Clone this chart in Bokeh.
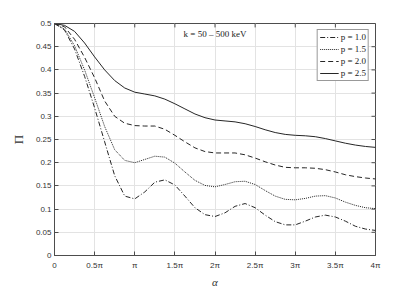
import numpy as np
from bokeh.plotting import figure
from bokeh.models import (FixedTicker, CustomJSTickFormatter, Legend,
                          LegendItem, Range1d, Label)
from bokeh.embed import file_html
from bokeh.resources import INLINE

# alpha in units of pi
alpha_pi = [0, 0.125, 0.25, 0.375, 0.5, 0.625, 0.75, 0.875, 1.0, 1.125, 1.25, 1.375,
            1.5, 1.625, 1.75, 1.875, 2.0, 2.125, 2.25, 2.375, 2.5, 2.625, 2.75, 2.875,
            3.0, 3.125, 3.25, 3.375, 3.5, 3.625, 3.75, 3.875, 4.0]

pi_p10 = [0.500, 0.486, 0.445, 0.386, 0.318, 0.245, 0.172, 0.128, 0.122, 0.137, 0.158, 0.163,
          0.152, 0.128, 0.103, 0.088, 0.084, 0.092, 0.106, 0.112, 0.103, 0.087, 0.073, 0.066,
          0.066, 0.074, 0.083, 0.087, 0.083, 0.074, 0.063, 0.057, 0.054]
pi_p15 = [0.500, 0.488, 0.452, 0.400, 0.340, 0.278, 0.228, 0.205, 0.200, 0.207, 0.214, 0.212,
          0.199, 0.180, 0.162, 0.151, 0.148, 0.153, 0.159, 0.160, 0.153, 0.140, 0.128, 0.121,
          0.120, 0.123, 0.128, 0.129, 0.124, 0.115, 0.108, 0.103, 0.101]
pi_p20 = [0.500, 0.493, 0.466, 0.427, 0.383, 0.333, 0.300, 0.285, 0.280, 0.279, 0.279, 0.272,
          0.259, 0.245, 0.232, 0.224, 0.221, 0.221, 0.221, 0.217, 0.210, 0.202, 0.195, 0.190,
          0.189, 0.189, 0.188, 0.185, 0.180, 0.174, 0.170, 0.167, 0.165]
pi_p25 = [0.500, 0.496, 0.483, 0.458, 0.428, 0.400, 0.377, 0.361, 0.352, 0.348, 0.344, 0.337,
          0.327, 0.316, 0.305, 0.297, 0.292, 0.290, 0.288, 0.284, 0.278, 0.271, 0.265, 0.261,
          0.259, 0.258, 0.256, 0.252, 0.247, 0.242, 0.238, 0.235, 0.233]

series_labels = ["p = 1.0", "p = 1.5", "p = 2.0", "p = 2.5"]
x_ticks = [0, 0.5, 1, 1.5, 2, 2.5, 3, 3.5, 4]
y_ticks = [0, 0.05, 0.1, 0.15, 0.2, 0.25, 0.3, 0.35, 0.4, 0.45, 0.5]

AX = "#4d4d4d"
LC = "#262626"
X0, X1, Y0, Y1 = 0, 4, 0, 0.5

p = figure(width=414, height=290, output_backend="svg", toolbar_location=None,
           x_range=Range1d(X0, X1), y_range=Range1d(Y0, Y1),
           min_border_left=54, min_border_right=39, min_border_top=23, min_border_bottom=31)
p.background_fill_color = "white"
p.border_fill_color = "white"
p.outline_line_color = AX
p.outline_line_width = 1

xfmt = CustomJSTickFormatter(code="""
if (Math.abs(tick) < 1e-9) return '0';
if (Math.abs(tick - 1) < 1e-9) return '\u03c0';
return (Math.round(tick*10)/10).toString() + '\u03c0';
""")
yfmt = CustomJSTickFormatter(code="return parseFloat(tick.toFixed(2)).toString();")

def style_axis(ax):
    ax.major_tick_in = 4
    ax.major_tick_out = 0
    ax.minor_tick_in = 0
    ax.minor_tick_out = 0
    ax.axis_line_color = AX
    ax.major_tick_line_color = AX
    ax.major_label_text_font = "Liberation Sans"
    ax.major_label_text_font_size = "8px"
    ax.major_label_text_color = "#333333"

xa = p.xaxis[0]
xa.ticker = FixedTicker(ticks=x_ticks)
xa.formatter = xfmt
style_axis(xa)
xa.major_label_standoff = 5
xa.axis_label = "α"
xa.axis_label_text_font = "Liberation Serif"
xa.axis_label_text_font_style = "italic"
xa.axis_label_text_font_size = "11px"
xa.axis_label_text_color = "#333333"
xa.axis_label_standoff = 3

ya = p.yaxis[0]
ya.ticker = FixedTicker(ticks=y_ticks)
ya.formatter = yfmt
style_axis(ya)
ya.major_label_standoff = 3
ya.axis_label = "Π"
ya.axis_label_text_font = "Liberation Serif"
ya.axis_label_text_font_style = "normal"
ya.axis_label_text_font_size = "13px"
ya.axis_label_text_color = "#333333"
ya.axis_label_standoff = 7

# inward ticks on the top and right edges of the box
tick_dy = (Y1 - Y0) * 4 / 236
tick_dx = (X1 - X0) * 4 / 321
p.segment(x0=x_ticks, y0=[Y1] * len(x_ticks), x1=x_ticks, y1=[Y1 - tick_dy] * len(x_ticks),
          line_color=AX, line_width=1)
p.segment(x0=[X1] * len(y_ticks), y0=y_ticks, x1=[X1 - tick_dx] * len(y_ticks), y1=y_ticks,
          line_color=AX, line_width=1)

p.xgrid.ticker = FixedTicker(ticks=x_ticks)
p.ygrid.ticker = FixedTicker(ticks=y_ticks)
p.xgrid.grid_line_color = "#e3e3e3"
p.ygrid.grid_line_color = "#e3e3e3"

r1 = p.line(alpha_pi, pi_p10, line_color=LC, line_width=1, line_dash="5 2 1 2")
r2 = p.line(alpha_pi, pi_p15, line_color=LC, line_width=1, line_dash="1 1")
r3 = p.line(alpha_pi, pi_p20, line_color=LC, line_width=1, line_dash="5 3")
r4 = p.line(alpha_pi, pi_p25, line_color=LC, line_width=1)

legend = Legend(items=[LegendItem(label=series_labels[i], renderers=[r])
                       for i, r in enumerate([r1, r2, r3, r4])],
                location="top_right")
legend.label_text_font = "Liberation Serif"
legend.label_text_font_size = "9px"
legend.label_text_color = "#222222"
legend.glyph_width = 19
legend.glyph_height = 10
legend.label_height = 10
legend.label_standoff = 2
legend.spacing = 2
legend.padding = 2
legend.margin = 6
legend.border_line_color = "#333333"
legend.border_line_width = 1
legend.background_fill_color = "white"
legend.background_fill_alpha = 1
p.add_layout(legend, "center")

ann = Label(x=2.0, y=0.477, text="k = 50 – 500 keV", text_font="Liberation Serif",
            text_font_size="9px", text_align="center", text_baseline="middle",
            text_color="#222222")
p.add_layout(ann)

open("out.html", "w").write(file_html(p, INLINE))
